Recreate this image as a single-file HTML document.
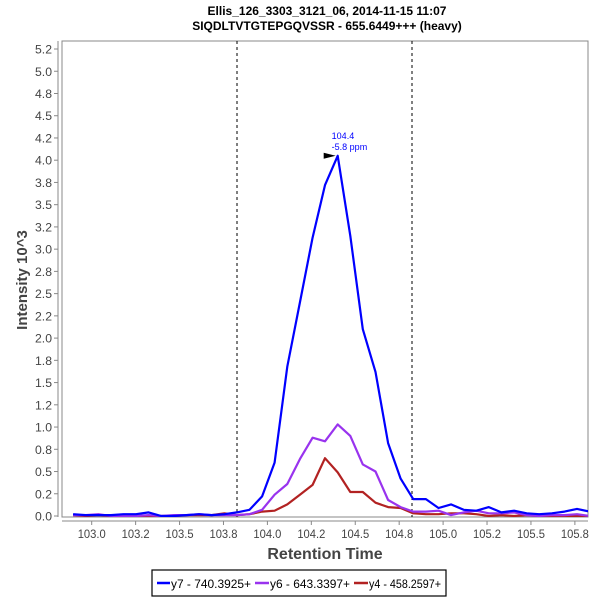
<!DOCTYPE html>
<html><head><meta charset="utf-8"><style>
body{margin:0;background:#fff;}
svg{display:block;font-family:"Liberation Sans",sans-serif;}
</style></head><body>
<svg id="chart" width="600" height="600" viewBox="0 0 600 600">
<text x="327" y="15" text-anchor="middle" font-size="12" font-weight="bold">Ellis_126_3303_3121_06, 2014-11-15 11:07</text>
<text x="327" y="30" text-anchor="middle" font-size="12" font-weight="bold">SIQDLTVTGTEPGQVSSR - 655.6449+++ (heavy)</text>
<rect x="62" y="41" width="526" height="476" fill="#fff" stroke="#888" stroke-width="1"/>
<line x1="58" y1="41" x2="58" y2="517" stroke="#888"/>
<line x1="62" y1="521" x2="588" y2="521" stroke="#888"/>
<g id="yticks"></g>
<g id="xticks"></g>
<text transform="translate(27,280) rotate(-90)" text-anchor="middle" font-size="15" font-weight="bold" fill="#444">Intensity 10^3</text>
<text x="325" y="559" text-anchor="middle" font-size="16" font-weight="bold" fill="#444">Retention Time</text>
<defs><clipPath id="clip"><rect x="62" y="41" width="526" height="476"/></clipPath></defs>
<g id="bounds"></g>
<g id="series" clip-path="url(#clip)"></g>
<g id="annot"></g>
<rect x="152" y="570" width="294" height="26" fill="#fff" stroke="#000" stroke-width="1.2"/>
<g><line x1="157" y1="583" x2="170" y2="583" stroke="#0000ff" stroke-width="2.5"/><text x="171" y="588" font-size="12" textLength="80" lengthAdjust="spacingAndGlyphs" fill="#000">y7 - 740.3925+</text></g>
<g><line x1="255" y1="583" x2="269" y2="583" stroke="#9933ee" stroke-width="2.5"/><text x="270" y="588" font-size="12" textLength="80" lengthAdjust="spacingAndGlyphs" fill="#000">y6 - 643.3397+</text></g>
<g><line x1="354" y1="583" x2="368" y2="583" stroke="#b22222" stroke-width="2.5"/><text x="369" y="588" font-size="12" textLength="72" lengthAdjust="spacingAndGlyphs" fill="#000">y4 - 458.2597+</text></g>
</svg>
<script>
const times=[102.894,102.966,103.038,103.109,103.181,103.252,103.324,103.396,103.468,103.539,103.611,103.683,103.755,103.826,103.898,103.970,104.041,104.113,104.185,104.257,104.328,104.400,104.472,104.543,104.615,104.687,104.758,104.830,104.902,104.974,105.045,105.117,105.189,105.260,105.332,105.404,105.476,105.547,105.619,105.691,105.762,105.834];
const y7=[0.02,0.01,0.01,0.01,0.02,0.02,0.04,0.0,0.0,0.01,0.02,0.01,0.02,0.04,0.07,0.22,0.6,1.68,2.4,3.13,3.72,4.05,3.15,2.1,1.62,0.82,0.42,0.19,0.19,0.09,0.13,0.07,0.06,0.1,0.04,0.06,0.03,0.02,0.03,0.05,0.08,0.05];
const y6=[0.01,0.01,0.02,0.0,0.0,0.0,0.01,0.0,0.01,0.01,0.02,0.01,0.01,0.01,0.02,0.07,0.24,0.36,0.64,0.88,0.84,1.03,0.9,0.58,0.5,0.18,0.1,0.05,0.05,0.06,0.01,0.04,0.06,0.03,0.03,0.04,0.01,0.0,0.01,0.01,0.02,0.0];
const y4=[0.01,0.0,0.01,0.0,0.0,0.0,0.0,0.0,0.0,0.01,0.01,0.01,0.03,0.01,0.02,0.05,0.06,0.13,0.24,0.35,0.65,0.49,0.27,0.27,0.15,0.1,0.09,0.03,0.02,0.02,0.03,0.03,0.02,0.0,0.01,0.0,0.01,0.0,0.0,0.0,0.0,0.0];
const yTickVals=[0,0.25,0.5,0.75,1,1.25,1.5,1.75,2,2.25,2.5,2.75,3,3.25,3.5,3.75,4,4.25,4.5,4.75,5,5.25];
const yTickLabels=["0.0","0.2","0.5","0.8","1.0","1.2","1.5","1.8","2.0","2.2","2.5","2.8","3.0","3.2","3.5","3.8","4.0","4.2","4.5","4.8","5.0","5.2"];
const xTickVals=[103,103.25,103.5,103.75,104,104.25,104.5,104.75,105,105.25,105.5,105.75];
const xTickLabels=["103.0","103.2","103.5","103.8","104.0","104.2","104.5","104.8","105.0","105.2","105.5","105.8"];
const boundaries=[103.827,104.823];
const peakTime=104.40, peakValue=4.05;

const NS="http://www.w3.org/2000/svg";
function X(t){return 91.7+(t-103)*175.7;}
function Y(v){return 516-v*88.95;}
function mk(tag,attrs,parent){const e=document.createElementNS(NS,tag);for(const k in attrs)e.setAttribute(k,attrs[k]);parent.appendChild(e);return e;}

const yt=document.getElementById('yticks');
yTickVals.forEach((v,i)=>{
  const l=mk('line',{x1:54,x2:58,y1:Y(v),y2:Y(v),stroke:'#888'},yt);
  
  
  const t=mk('text',{x:52,y:Y(v)+4.5,'text-anchor':'end','font-size':12,fill:'#444',textLength:17,lengthAdjust:'spacingAndGlyphs'},yt);
  t.textContent=yTickLabels[i];
  
  
});
const xt=document.getElementById('xticks');
xTickVals.forEach((v,i)=>{
  const l=mk('line',{x1:X(v),x2:X(v),y1:521,y2:525,stroke:'#888'},xt);
  
  
  const t=mk('text',{x:X(v),y:538,'text-anchor':'middle','font-size':12,fill:'#444',textLength:28,lengthAdjust:'spacingAndGlyphs'},xt);
  t.textContent=xTickLabels[i];
  
  
});
const bd=document.getElementById('bounds');
boundaries.forEach(b=>{
  const l=mk('line',{x1:X(b),x2:X(b),y1:41,y2:517,stroke:'#000','stroke-dasharray':'3,3','stroke-width':1},bd);
  
  
});
const sg=document.getElementById('series');
[[y4,'#b22222','series-y4'],[y6,'#9933ee','series-y6'],[y7,'#0000ff','series-y7']].forEach(([vals,col,name])=>{
  const pts=vals.map((v,i)=>X(times[i]).toFixed(1)+','+Y(v).toFixed(1)).join(' ');
  const p=mk('polyline',{points:pts,fill:'none',stroke:col,'stroke-width':2.2,'stroke-linejoin':'round'},sg);
  
  
});
const an=document.getElementById('annot');
const px=X(peakTime), py=Y(peakValue);
const tri=mk('polygon',{points:`${px-14},${py-3} ${px-2},${py} ${px-14},${py+3}`,fill:'#000'},an);


const a1=mk('text',{x:px-6,y:py-17,'font-size':9,fill:'#0000ff'},an);
a1.textContent=peakTime.toFixed(1);


const a2=mk('text',{x:px-6,y:py-6,'font-size':9,fill:'#0000ff'},an);
a2.textContent='-5.8 ppm';


</script>
</body></html>
